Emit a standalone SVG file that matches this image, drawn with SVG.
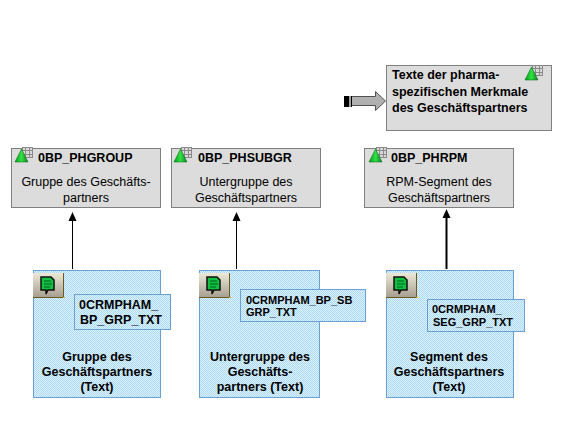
<svg xmlns="http://www.w3.org/2000/svg" width="569" height="427" viewBox="0 0 569 427">
<defs>
<pattern id="dither" width="2" height="2" patternUnits="userSpaceOnUse"><rect width="2" height="2" fill="#d8f4fa"/><rect width="1" height="1" fill="#b0d8f4"/><rect x="1" y="1" width="1" height="1" fill="#b0d8f4"/></pattern>
<linearGradient id="btn" x1="0" y1="0" x2="0" y2="1"><stop offset="0" stop-color="#ece8d8"/><stop offset="1" stop-color="#a8a090"/></linearGradient>
<linearGradient id="cone" x1="0" y1="0" x2="1" y2="0"><stop offset="0" stop-color="#00a020"/><stop offset="0.5" stop-color="#30e040"/><stop offset="1" stop-color="#108030"/></linearGradient>
<g id="cube"><g stroke="#8a8a8a" stroke-width="1" fill="#d8d8d8"><rect x="7.500" y="0.500" width="10" height="10"/><path d="M10.500 0.500V10.500M14.500 0.500V10.500M7.500 3.500H17.500M7.500 7.500H17.500" fill="none"/></g><path d="M6.500 2L13 15H0Z" fill="url(#cone)" stroke="#006010" stroke-width="0.500"/></g>
<g id="note"><path d="M0 0H31V24H0Z" fill="url(#btn)"/><path d="M30.500 0V24.500H0" fill="none" stroke="#6a5a20" stroke-width="1"/><path d="M30 24h2v1h-2z" fill="#e8a820"/><path d="M8 4H18L21 7V17H15L13 21V17H8Z" fill="#10c040" stroke="#101010" stroke-width="1.500"/><path d="M11 8H18M11 11H19M11 14H17" stroke="#006020" stroke-width="1"/></g>
</defs>
<style>
.grey{fill:#dcdcdc;stroke:#808080;stroke-width:1}
.cyan{fill:url(#dither);stroke:#6a9fd8;stroke-width:1}
text{font-family:"Liberation Sans",Arial,sans-serif;fill:#000;text-anchor:middle}
.h{font-size:12.500px;font-weight:bold;text-anchor:start}
.b{font-size:12.500px}
.bb{font-size:12.500px;font-weight:bold}
.s{font-size:11px;font-weight:bold;text-anchor:start}
.conn{stroke:#000;fill:none}
.tip{fill:#000}
</style>
<rect width="569" height="427" fill="#fff"/>
<g id="connectors">
<path class="conn" stroke-width="1" d="M72.500 269V220"/><path class="tip" d="M72.500 212L76.500 221H68.500Z"/>
<path class="conn" stroke-width="1" d="M236.500 269V220"/><path class="tip" d="M236.500 212L240.500 221H232.500Z"/>
<path class="conn" stroke-width="2" d="M446.500 269V217"/><path class="tip" d="M446.500 209L450.500 218H442.500Z"/>
</g>
<g id="arrow-in">
<path d="M350.500 96.500H375.500V91.500L385.500 101L375.500 110.500V105.500H350.500Z" fill="#b0b0b0" stroke="#505050" stroke-width="1"/>
<rect x="344" y="96" width="5" height="11" fill="#000"/><rect x="349" y="96" width="2" height="11" fill="#a0a0a0"/><rect x="351" y="96" width="1" height="11" fill="#000"/>
</g>
<g id="node-texts">
<rect class="grey" x="386.500" y="65.500" width="165" height="65"/>
<use href="#cube" x="525" y="65"/>
<text class="h" x="392" y="79">Texte der pharma-</text>
<text class="h" x="392" y="96">spezifischen Merkmale</text>
<text class="h" x="392" y="112">des Geschäftspartners</text>
</g>
<g id="node-phgroup">
<rect class="grey" x="11.500" y="148.500" width="149" height="59"/>
<use href="#cube" x="15" y="147"/>
<text class="h" x="38" y="162">0BP_PHGROUP</text>
<text class="b" x="86" y="186">Gruppe des Geschäfts-</text>
<text class="b" x="86" y="202">partners</text>
</g>
<g id="node-phsubgr">
<rect class="grey" x="171.500" y="148.500" width="149" height="59"/>
<use href="#cube" x="174" y="147"/>
<text class="h" x="198" y="162">0BP_PHSUBGR</text>
<text class="b" x="246" y="186">Untergruppe des</text>
<text class="b" x="246" y="202">Geschäftspartners</text>
</g>
<g id="node-phrpm">
<rect class="grey" x="364.500" y="148.500" width="149" height="59"/>
<use href="#cube" x="369" y="147"/>
<text class="h" x="391" y="162">0BP_PHRPM</text>
<text class="b" x="439" y="186">RPM-Segment des</text>
<text class="b" x="439" y="202">Geschäftspartners</text>
</g>
<g id="node-grp-txt">
<rect class="cyan" x="33.500" y="270.500" width="127" height="127"/>
<use href="#note" x="33" y="273"/>
<rect class="cyan" x="74.500" y="294.500" width="96" height="35"/>
<text class="h" x="79" y="309">0CRMPHAM_</text>
<text class="h" x="80" y="324">BP_GRP_TXT</text>
<text class="bb" x="97" y="361">Gruppe des</text>
<text class="bb" x="97" y="376">Geschäftspartners</text>
<text class="bb" x="97" y="391">(Text)</text>
</g>
<g id="node-sbgrp-txt">
<rect class="cyan" x="199.500" y="270.500" width="120" height="127"/>
<use href="#note" x="199" y="273"/>
<rect class="cyan" x="240.500" y="289.500" width="125" height="32"/>
<text class="s" x="246" y="304">0CRMPHAM_BP_SB</text>
<text class="s" x="246" y="316">GRP_TXT</text>
<text class="bb" x="260" y="361">Untergruppe des</text>
<text class="bb" x="260" y="376">Geschäfts-</text>
<text class="bb" x="260" y="391">partners (Text)</text>
</g>
<g id="node-seg-txt">
<rect class="cyan" x="386.500" y="270.500" width="127" height="127"/>
<use href="#note" x="386" y="273"/>
<rect class="cyan" x="427.500" y="299.500" width="97" height="32"/>
<text class="s" x="432" y="313">0CRMPHAM_</text>
<text class="s" x="433" y="326">SEG_GRP_TXT</text>
<text class="bb" x="449" y="361">Segment des</text>
<text class="bb" x="449" y="376">Geschäftspartners</text>
<text class="bb" x="449" y="391">(Text)</text>
</g>
</svg>
